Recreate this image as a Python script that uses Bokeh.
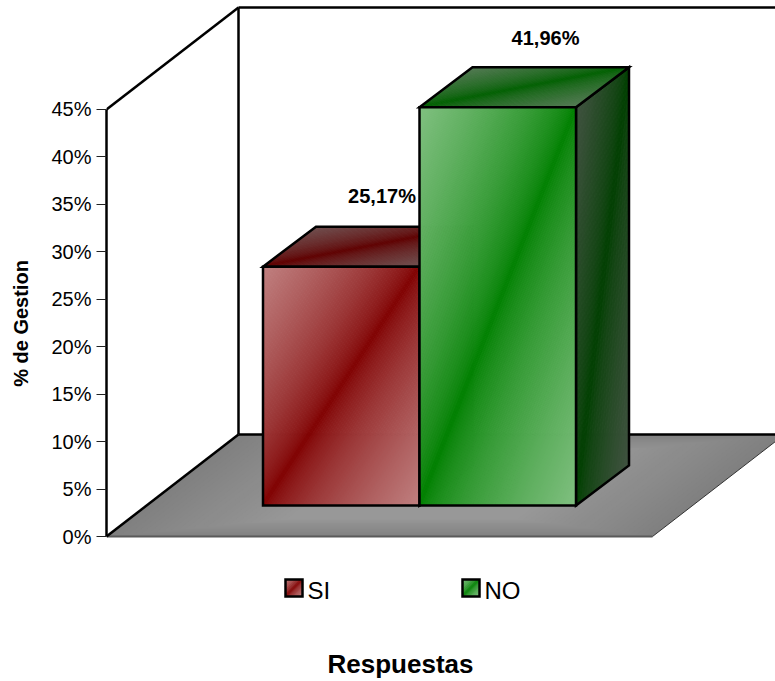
from bokeh.plotting import figure
from bokeh.embed import file_html
from bokeh.resources import INLINE
from bokeh.models import FixedTicker, Range1d, Title
from bokeh.core.properties import value

# ---- chart data ----
series = ["SI", "NO"]
values = [25.17, 41.96]
data_labels = ["25,17%", "41,96%"]
y_ticks = [0, 5, 10, 15, 20, 25, 30, 35, 40, 45]
y_tick_labels = ["0%", "5%", "10%", "15%", "20%", "25%", "30%", "35%", "40%", "45%"]
y_title = "% de Gestion"
x_title = "Respuestas"

# ---- colours (dark, light) per face ----
front_cols = [((128, 0, 0), (192, 128, 128)), ((0, 128, 0), (128, 192, 128))]
top_cols = [((96, 0, 0), (112, 80, 80)), ((0, 96, 0), (84, 122, 84))]
side_cols = [((64, 0, 0), (80, 64, 64)), ((0, 64, 0), (64, 82, 64))]

# ---- layout: scale of the page, one x unit is a bar width ----
W, H = 775, 681
FRAME_BOTTOM = 646       # the frame is centred on the 0-45% axis
X0, Y0 = 106, 536        # page position of the origin
PX_X, PX_Y = 156.5, 9.49 # pixels per x unit and per percent
LW = 2.5
def ux(px): return (px - X0) / PX_X
def uy(py): return (Y0 - py) / PX_Y

wall_dx, wall_dy = 132 / PX_X, 102 / PX_Y   # depth of the plot box
bar_dx, bar_dy = 53 / PX_X, 40 / PX_Y       # depth of a bar
base_y = 31 / PX_Y                          # bars stand this far back on the floor
floor_w = 546 / PX_X
axis_top = y_ticks[-1]
top_line_y = axis_top + wall_dy

p = figure(width=W, height=H, output_backend="svg", toolbar_location=None,
           x_range=Range1d(0, ux(W)), y_range=Range1d(uy(FRAME_BOTTOM), uy(0)),
           min_border_left=X0, min_border_right=0, min_border_top=0,
           min_border_bottom=H - FRAME_BOTTOM,
           background_fill_color="white", outline_line_color=None)
p.xaxis.visible = False
p.grid.visible = False

ax = p.yaxis[0]
ax.ticker = FixedTicker(ticks=y_ticks)
ax.major_label_overrides = {t: s for t, s in zip(y_ticks, y_tick_labels)}
ax.bounds = (0, axis_top)
ax.axis_line_color = "black"
ax.axis_line_width = LW
ax.major_tick_out = 10
ax.major_tick_in = 0
ax.major_tick_line_color = "#222222"
ax.minor_tick_line_color = None
ax.major_label_standoff = 5
ax.major_label_text_font = "Liberation Sans"
ax.major_label_text_font_size = "20px"
ax.major_label_text_color = "black"
ax.axis_label = y_title
ax.axis_label_text_font = "Liberation Sans"
ax.axis_label_text_font_size = "20px"
ax.axis_label_text_font_style = "bold"
ax.axis_label_text_color = "black"
ax.axis_label_standoff = 16


def clip(poly, a, b, c):
    """Keep the part of a uv polygon where a*u + b*v >= c."""
    out = []
    for i in range(len(poly)):
        p0, p1 = poly[i], poly[(i + 1) % len(poly)]
        d0 = a * p0[0] + b * p0[1] - c
        d1 = a * p1[0] + b * p1[1] - c
        if d0 >= 0:
            out.append(p0)
        if (d0 >= 0) != (d1 >= 0):
            s = d0 / (d0 - d1)
            out.append((p0[0] + s * (p1[0] - p0[0]), p0[1] + s * (p1[1] - p0[1])))
    return out


def lerp_hex(c0, c1, t):
    return "#%02x%02x%02x" % tuple(round(c0[i] + (c1[i] - c0[i]) * t) for i in range(3))


def face(o, eu, ev, cols, n=48, line_width=LW):
    """A parallelogram with a gradient that is darkest on its main diagonal."""
    xs, ys, colors = [], [], []
    square = [(0, 0), (1, 0), (1, 1), (0, 1)]
    for i in range(-n, n):
        a, b = i / n, (i + 1) / n
        poly = clip(clip(square, 1, -1, a), -1, 1, -b)
        if len(poly) < 3:
            continue
        xs.append([o[0] + u * eu[0] + v * ev[0] for u, v in poly])
        ys.append([o[1] + u * eu[1] + v * ev[1] for u, v in poly])
        colors.append(lerp_hex(cols[0], cols[1], (abs(a + b) / 2) ** 0.7))
    p.patches(xs, ys, fill_color=colors, line_color=colors, line_width=1)
    cx = [o[0], o[0] + eu[0], o[0] + eu[0] + ev[0], o[0] + ev[0]]
    cy = [o[1], o[1] + eu[1], o[1] + eu[1] + ev[1], o[1] + ev[1]]
    p.patch(cx, cy, fill_color=None, line_color="black", line_width=line_width,
            line_join="miter")


# ---- floor: light centre fading towards its edges ----
levels = 26
for k in range(levels):
    su, sv = 0.3 * k / levels, 0.18 * k / levels
    ox = su * floor_w + sv * wall_dx
    oy = sv * wall_dy
    wu = (1 - 2 * su) * floor_w
    dv = 1 - 2 * sv
    p.patch([ox, ox + wu, ox + wu + dv * wall_dx, ox + dv * wall_dx],
            [oy, oy, oy + dv * wall_dy, oy + dv * wall_dy],
            fill_color=lerp_hex((128, 128, 128), (153, 153, 153), k / levels),
            line_color=None)

# front and right edges of the floor
p.line([0, floor_w], [0, 0], line_color="#5a5a5a", line_width=2)
p.line([floor_w, floor_w + wall_dx], [0, wall_dy], line_color="#333333", line_width=1)

# walls
p.line([wall_dx, wall_dx], [wall_dy, top_line_y], line_color="black", line_width=LW)
p.line([wall_dx, ux(W)], [top_line_y, top_line_y], line_color="black", line_width=LW)
p.line([wall_dx, ux(W)], [wall_dy, wall_dy], line_color="black", line_width=LW)
p.line([0, wall_dx], [axis_top, top_line_y], line_color="black", line_width=LW)
p.line([0, wall_dx], [0, wall_dy], line_color="black", line_width=LW)

# ---- bars ----
for i, v in enumerate(values):
    x0 = 1 + i
    face((x0 + 1, base_y), (bar_dx, bar_dy), (0, v), side_cols[i], n=20)
    face((x0, base_y + v), (1, 0), (bar_dx, bar_dy), top_cols[i], n=24)
    face((x0, base_y), (1, 0), (0, v), front_cols[i], n=64)

# ---- data labels ----
label_x = [ux(381.5), ux(545)]
label_gap = [31, 29]
label_y = [v + base_y + bar_dy + g / PX_Y for v, g in zip(values, label_gap)]
p.text(label_x, label_y, text=data_labels, text_font=value("Liberation Sans"),
       text_font_size="20px", text_font_style="bold", text_color="black",
       text_align="center", text_baseline="middle")

# ---- legend ----
icon_x = [285, 462]
for i, name in enumerate(series):
    face((ux(icon_x[i]), uy(596)), (17 / PX_X, 0), (0, 17 / PX_Y), front_cols[i], n=10)
p.text([ux(x + 22) for x in icon_x], [uy(590)] * 2, text=series,
       text_font=value("Liberation Sans"), text_font_size="24px", text_color="black",
       text_align="left", text_baseline="middle")

# ---- category axis title, in the strip below the frame ----
p.add_layout(Title(text=x_title, align="left", offset=327 - X0, standoff=0,
                   text_font="Liberation Sans", text_font_size="26px",
                   text_font_style="bold", text_color="black"), "below")

open("out.html", "w").write(file_html(p, INLINE))
